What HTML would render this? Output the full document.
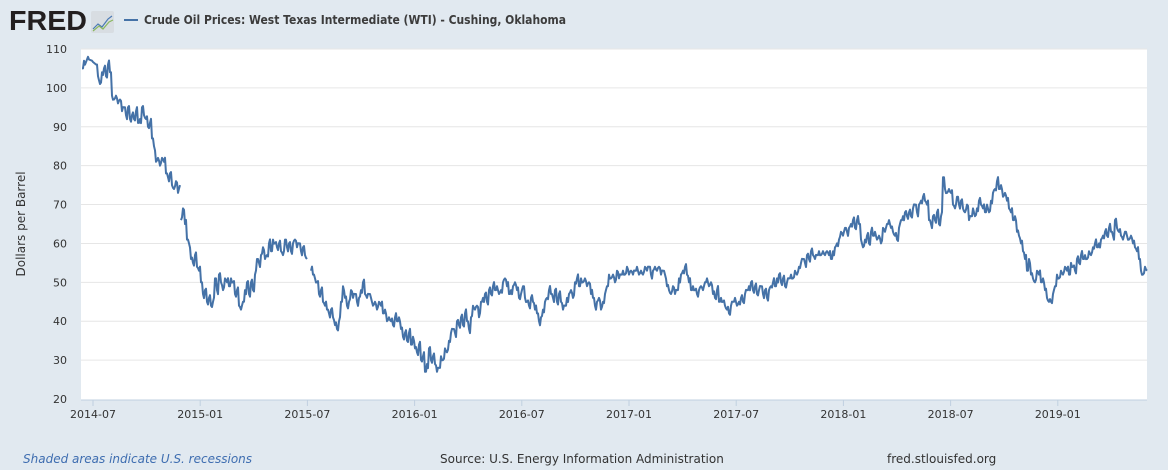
<!DOCTYPE html>
<html><head><meta charset="utf-8"><style>
html,body{margin:0;padding:0;background:#e1e9f0;width:1168px;height:470px;overflow:hidden;font-family:"DejaVu Sans","Liberation Sans",sans-serif;}
</style></head><body>
<svg id="s" width="1168" height="470" xmlns="http://www.w3.org/2000/svg" style="position:absolute;left:0;top:0">
<rect x="0" y="0" width="1168" height="470" fill="#e1e9f0"/>
<text x="9" y="30" font-family="Liberation Sans,sans-serif" font-weight="bold" font-size="28" fill="#231f20" textLength="78" lengthAdjust="spacingAndGlyphs">FRED</text>
<rect x="91" y="11" width="23" height="22" rx="2" fill="#d8dde2"/>
<polyline points="93,29 98,24 102,27 108,19 112,16" fill="none" stroke="#4a7ab5" stroke-width="1.2"/>
<polyline points="93,31 99,26 103,29 109,22 113,20" fill="none" stroke="#8ab860" stroke-width="1.2"/>
<line x1="124" y1="20" x2="138" y2="20" stroke="#4572a7" stroke-width="2"/>
<text x="144" y="24" font-weight="bold" font-size="12" fill="#3c3c3c" textLength="422" lengthAdjust="spacingAndGlyphs">Crude Oil Prices: West Texas Intermediate (WTI) - Cushing, Oklahoma</text>
<rect x="81" y="49" width="1066" height="351" fill="#fff"/>
<g id="grid"></g>
<line x1="81" y1="400" x2="1147" y2="400" stroke="#c0d0e0" stroke-width="1"/>
<g id="xt" font-size="11" fill="#333" text-anchor="middle"></g>
<g id="yt" font-size="11" fill="#333" text-anchor="end"></g>
<text transform="translate(25,224) rotate(-90)" font-size="12" fill="#333" text-anchor="middle">Dollars per Barrel</text>
<path id="line" fill="none" stroke="#4572a7" stroke-width="2" stroke-linejoin="round"/>
<text x="23" y="463" font-size="12" font-style="italic" fill="#3e6db0">Shaded areas indicate U.S. recessions</text>
<text x="440" y="463" font-size="12" fill="#333">Source: U.S. Energy Information Administration</text>
<text x="887" y="463" font-size="12" fill="#333">fred.stlouisfed.org</text>
</svg>
<script>
var NS="http://www.w3.org/2000/svg";
function Y(p){return 399-(p-20)*3.889;}
var g=document.getElementById('grid'),yt=document.getElementById('yt'),xt=document.getElementById('xt');
for(var v=20;v<=110;v+=10){var y=Y(v);
 if(v>20){var l=document.createElementNS(NS,'line');l.setAttribute('x1',81);l.setAttribute('x2',1147);l.setAttribute('y1',y);l.setAttribute('y2',y);l.setAttribute('stroke','#e6e6e6');g.appendChild(l);}
 var t=document.createElementNS(NS,'text');t.setAttribute('x',67);t.setAttribute('y',y+4);t.textContent=v;yt.appendChild(t);}
var labs=['2014-07','2015-01','2015-07','2016-01','2016-07','2017-01','2017-07','2018-01','2018-07','2019-01'];
for(var i=0;i<labs.length;i++){var x=93+i*107.2;
 var l=document.createElementNS(NS,'line');l.setAttribute('x1',x);l.setAttribute('x2',x);l.setAttribute('y1',400);l.setAttribute('y2',406);l.setAttribute('stroke','#c0d0e0');xt.appendChild(l);
 var t=document.createElementNS(NS,'text');t.setAttribute('x',x);t.setAttribute('y',418);t.textContent=labs[i];xt.appendChild(t);}
var d=[82,105,84,107,88,108,92,107,96,106,98,103,100,101,102,104,104,105,106,103,108,106,110,104,112,98,114,97,116,98,118,96,120,97,122,94,124,95,126,93,128,95,130,92,132,93,134,92,136,94,138,91,140,92,142,95,144,93,146,92,148,90,150,91,152,87,154,85,156,81,158,82,160,80,162,82,164,81,166,78,168,77,170,78,172,75,174,74,176,76,178,73,180,75,-1,-1,181,66,183,69,185,65,187,61,189,60,191,56,193,55,195,57,197,54,199,53,201,50,203,47,205,48,207,45,209,46,211,44,213,45,215,51,217,48,219,52,221,50,223,48,225,51,227,50,229,49,231,51,233,50,235,47,237,48,239,44,241,43,243,45,245,48,247,50,249,47,251,50,253,48,255,52,257,56,259,55,261,57,263,59,265,56,267,57,269,60,271,58,273,61,275,60,277,59,279,60,281,58,283,57,285,61,287,59,289,60,291,58,293,60,295,61,297,59,299,60,301,58,303,59,305,57,307,56,-1,-1,311,53,313,52,315,51,317,50,319,47,321,48,323,45,325,44,327,43,329,42,331,43,333,41,335,39,337,38,339,40,341,45,343,49,345,46,347,44,349,45,351,48,353,46,355,47,357,45,359,46,361,48,363,50,365,47,367,46,369,47,371,46,373,44,375,45,377,43,379,45,381,44,383,42,385,43,387,40,389,41,391,40,393,39,395,41,397,40,399,41,401,38,403,36,405,37,407,35,409,37,411,34,413,36,415,33,417,32,419,34,421,30,423,31,425,27,427,29,429,33,431,30,433,31,435,29,437,27,439,28,441,31,443,30,445,33,447,32,449,35,451,37,453,38,455,37,457,40,459,39,461,41,463,39,465,42,467,40,469,38,471,41,473,44,475,43,477,44,479,41,481,45,483,46,485,47,487,45,489,48,491,47,493,49,495,48,497,49,499,47,501,48,503,50,505,51,507,49,509,47,511,48,513,49,515,50,517,48,519,46,521,47,523,49,525,46,527,45,529,44,531,46,533,45,535,43,537,42,539,40,541,41,543,43,545,45,547,46,549,48,551,47,553,46,555,48,557,45,559,47,561,45,563,43,565,44,567,46,569,47,571,48,573,46,575,50,577,51,579,49,581,51,583,50,585,51,587,49,589,50,591,47,593,46,595,44,597,45,599,46,601,43,603,45,605,47,607,49,609,52,611,51,613,52,615,50,617,53,619,51,621,52,623,53,625,52,627,54,629,52,631,53,633,52,635,53,637,54,639,52,641,53,643,52,645,54,647,53,649,54,651,52,653,53,655,54,657,53,659,54,661,52,663,53,665,52,667,49,669,48,671,47,673,49,675,47,677,48,679,51,681,52,683,53,685,54,687,52,689,50,691,48,693,49,695,48,697,47,699,48,701,49,703,48,705,50,707,51,709,49,711,50,713,47,715,46,717,48,719,45,721,46,723,45,725,44,727,43,729,42,731,44,733,45,735,46,737,44,739,45,741,46,743,45,745,47,747,48,749,49,751,50,753,48,755,49,757,47,759,48,761,49,763,47,765,48,767,46,769,48,771,49,773,50,775,49,777,51,779,52,781,50,783,51,785,49,787,50,789,51,791,52,793,51,795,53,797,52,799,54,801,55,803,56,805,55,807,57,809,56,811,58,813,57,815,56,817,57,819,58,821,57,823,58,825,57,827,58,829,57,831,56,833,58,835,59,837,60,839,61,841,63,843,62,845,64,847,63,849,64,851,65,853,66,855,64,857,66,859,65,861,61,863,59,865,61,867,62,869,60,871,63,873,62,875,63,877,61,879,62,881,60,883,64,885,63,887,65,889,66,891,64,893,63,895,62,897,61,899,64,901,66,903,67,905,68,907,67,909,68,911,67,913,69,915,70,917,68,919,70,921,71,923,72,925,71,927,70,929,66,931,65,933,67,935,66,937,68,939,65,941,67,943,77,945,74,947,73,949,74,951,73,953,70,955,69,957,72,959,70,961,71,963,69,965,68,967,70,969,66,971,67,973,69,975,67,977,69,979,71,981,70,983,69,985,68,987,70,989,68,991,71,993,73,995,74,997,76,999,74,1001,75,1003,72,1005,73,1007,71,1009,69,1011,68,1013,66,1015,67,1017,63,1019,62,1021,60,1023,58,1025,56,1027,53,1029,56,1031,52,1033,51,1035,50,1037,53,1039,52,1041,50,1043,51,1045,48,1047,46,1049,45,1051,45,1053,47,1055,49,1057,52,1059,51,1061,53,1063,52,1065,54,1067,53,1069,52,1071,55,1073,54,1075,53,1077,56,1079,55,1081,57,1083,56,1085,57,1087,56,1089,58,1091,57,1093,59,1095,60,1097,59,1099,60,1101,61,1103,62,1105,63,1107,62,1109,64,1111,63,1113,62,1115,66,1117,64,1119,63,1121,62,1123,61,1125,63,1127,62,1129,61,1131,62,1133,60,1135,59,1137,58,1139,56,1141,53,1143,52,1145,54,1147,53];
var s="",m=true;
for(var i=0;i<d.length;i+=2){if(d[i]<0){m=true;continue;}
 var x=d[i],p=d[i+1];
 s+=(m?"M":"L")+x+","+Y(p).toFixed(1);m=false;
 if(i+2<d.length&&d[i+2]>0){var xm=x+1,pm=p+(((x*7919)%7)-3)*0.35;s+="L"+xm+","+Y(pm).toFixed(1);}
}
document.getElementById('line').setAttribute('d',s);
</script>
</body></html>
